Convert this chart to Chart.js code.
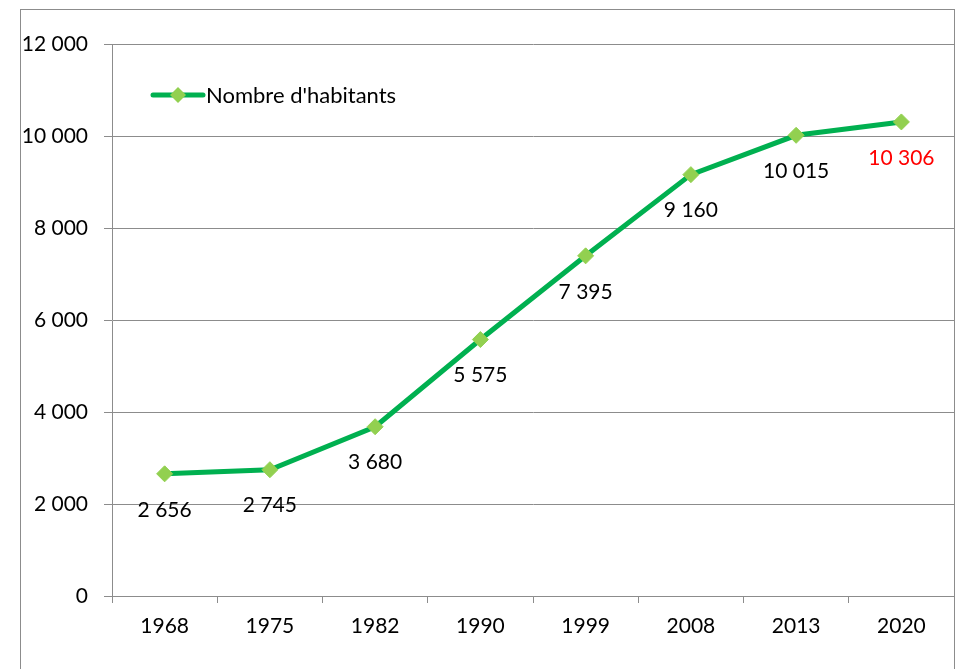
<!DOCTYPE html>
<html>
<head>
<meta charset="utf-8">
<script src="https://cdn.jsdelivr.net/npm/chart.js@4/dist/chart.umd.min.js"></script>
<style>
  html, body { margin: 0; padding: 0; background: #fff; overflow: hidden; }
  #wrap { width: 957px; height: 669px; }
  #popChart { display: block; }
</style>
</head>
<body>
<div id="wrap"><canvas id="popChart" width="957" height="669"></canvas></div>
<script>
'use strict';

// Données : recensements
const years = ['1968', '1975', '1982', '1990', '1999', '2008', '2013', '2020'];
const inhabitants = [2656, 2745, 3680, 5575, 7395, 9160, 10015, 10306];
const seriesLabel = "Nombre d'habitants";

const FONT = 'Lato, "Noto Sans", sans-serif';
const FONT_SIZE = 21;

// Format "12 000"
function fmt(v) {
  return String(v).replace(/\B(?=(\d{3})+(?!\d))/g, ' ');
}

// Cadre autour du graphique
const framePlugin = {
  id: 'frame',
  beforeDraw(chart) {
    const ctx = chart.ctx;
    ctx.save();
    ctx.strokeStyle = '#8c8c8c';
    ctx.lineWidth = 1;
    ctx.strokeRect(20.5, 9.5, 934, 700);
    ctx.restore();
  },
};

// Etiquettes sous les points + légende
const labelsPlugin = {
  id: 'pointLabels',
  afterDatasetsDraw(chart, args, opts) {
    const ctx = chart.ctx;
    const meta = chart.getDatasetMeta(0);
    const ds = chart.data.datasets[0];
    ctx.save();
    ctx.font = `${FONT_SIZE}px ${FONT}`;
    ctx.textAlign = 'center';
    ctx.textBaseline = 'middle';
    meta.data.forEach((pt, i) => {
      ctx.fillStyle = i === opts.highlightIndex ? '#ff0000' : '#000';
      ctx.fillText(fmt(ds.data[i]), pt.x, pt.y + 36);
    });

    // Légende
    const lx = 153, ly = 95;
    ctx.strokeStyle = ds.borderColor;
    ctx.lineWidth = 5;
    ctx.lineCap = 'round';
    ctx.beginPath();
    ctx.moveTo(lx, ly);
    ctx.lineTo(lx + 50, ly);
    ctx.stroke();
    ctx.fillStyle = ds.pointBackgroundColor;
    ctx.beginPath();
    ctx.moveTo(lx + 25, ly - 8);
    ctx.lineTo(lx + 33, ly);
    ctx.lineTo(lx + 25, ly + 8);
    ctx.lineTo(lx + 17, ly);
    ctx.closePath();
    ctx.fill();
    ctx.fillStyle = '#000';
    ctx.textAlign = 'left';
    ctx.font = `22px ${FONT}`;
    ctx.fillText(ds.label, lx + 53, ly + 1);
    ctx.restore();
  },
};

const ctx = document.getElementById('popChart').getContext('2d');

new Chart(ctx, {
  type: 'line',
  data: {
    labels: years,
    datasets: [
      {
        label: seriesLabel,
        data: inhabitants,
        borderColor: '#00b050',
        borderWidth: 5,
        pointStyle: 'rectRot',
        pointRadius: 8,
        pointHoverRadius: 8,
        pointBackgroundColor: '#92d050',
        pointBorderColor: '#92d050',
        pointBorderWidth: 1,
        tension: 0,
        clip: false,
      },
    ],
  },
  options: {
    responsive: false,
    animation: false,
    layout: {
      autoPadding: false,
      padding: { left: 20, top: 44, right: 3, bottom: 0 },
    },
    plugins: {
      legend: { display: false },
      tooltip: { enabled: false },
      pointLabels: { highlightIndex: 7 },
    },
    scales: {
      x: {
        offset: true,
        afterFit(scale) {
          scale.height = 73;
          scale.paddingLeft = 0;
          scale.paddingRight = 0;
        },
        grid: {
          offset: true,
          drawOnChartArea: false,
          drawTicks: true,
          tickLength: 7,
          color: '#8c8c8c',
        },
        border: { color: '#8c8c8c', width: 1 },
        ticks: {
          color: '#000',
          padding: 11,
          maxRotation: 0,
          font: { family: FONT, size: FONT_SIZE },
        },
      },
      y: {
        min: 0,
        max: 12000,
        afterFit(scale) {
          scale.width = 92;
          scale.paddingTop = 0;
          scale.paddingBottom = 0;
        },
        grid: {
          color: '#8c8c8c',
          drawTicks: true,
          tickLength: 8,
        },
        border: { color: '#8c8c8c', width: 1 },
        ticks: {
          stepSize: 2000,
          color: '#000',
          padding: 16,
          font: { family: FONT, size: FONT_SIZE },
          callback: v => fmt(v),
        },
      },
    },
  },
  plugins: [framePlugin, labelsPlugin],
});
</script>
</body>
</html>
